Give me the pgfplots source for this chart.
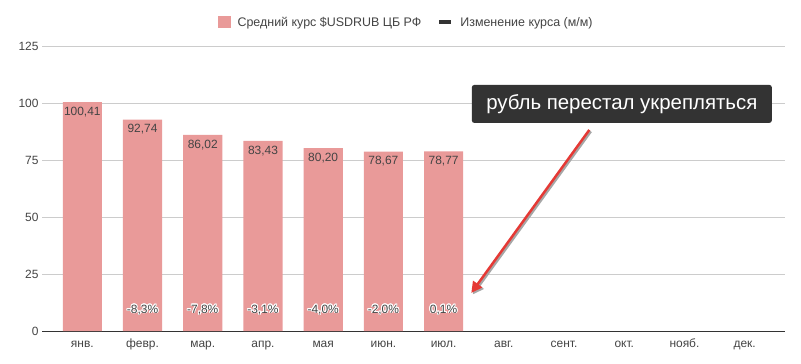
\documentclass[border=0pt]{standalone}
\usepackage{fontspec}
\setmainfont{Liberation Sans}
\usepackage{pgfplots}
\pgfplotsset{compat=1.18}
\usetikzlibrary{arrows.meta}
\usepackage{contour}
\contourlength{0.8pt}
\definecolor{barc}{HTML}{E99A99}
\definecolor{txt}{HTML}{444444}
\definecolor{gridc}{HTML}{CCCCCC}
\definecolor{ann}{HTML}{333333}
\definecolor{arr}{HTML}{E53935}
\begin{document}
\begin{tikzpicture}
\path[use as bounding box] (-42bp,-33bp) rectangle (759bp,331bp);
\begin{axis}[
  scale only axis, width=743bp, height=285bp,
  xmin=-0.67, xmax=11.67, ymin=0, ymax=125,
  ytick={0,25,...,125},
  xtick={0,...,11},
  xticklabels={янв.,февр.,мар.,апр.,мая,июн.,июл.,авг.,сент.,окт.,нояб.,дек.},
  axis line style={draw=none},
  major tick length=0pt,
  ymajorgrids, grid style={gridc, line width=0.8bp},
  extra y ticks={0}, extra y tick labels={},
  extra y tick style={grid style={ann, line width=1bp}},
  tick label style={font=\fontsize{12}{14}\selectfont, text=txt},
  xticklabel style={anchor=base, yshift=-16bp},
  /pgf/number format/assume math mode=true,
  legend style={at={(0.49,1)}, anchor=south, yshift=14bp, draw=none,
    legend columns=-1, font=\fontsize{12.5}{14}\selectfont, text=txt,
    /tikz/every odd column/.append style={column sep=5bp},
    /tikz/every even column/.append style={column sep=14bp}},
]
\addplot[ybar, bar width=0.65, fill=barc, draw=none,
  nodes near coords, point meta=explicit symbolic,
  every node near coord/.style={anchor=north, yshift=-1.5bp, font=\fontsize{12}{14}\selectfont, text=txt},
  legend image code/.code={\fill[barc] (0bp,-6bp) rectangle (13bp,6bp);}]
coordinates {
(0,100.41) [100,41]
(1,92.74) [92,74]
(2,86.02) [86,02]
(3,83.43) [83,43]
(4,80.20) [80,20]
(5,78.67) [78,67]
(6,78.77) [78,77]
};
\addlegendentry{Средний курс \$USDRUB ЦБ РФ}
\addplot[draw=none, mark=none,
  nodes near coords={\contour{white}{\pgfplotspointmeta}}, point meta=explicit symbolic,
  every node near coord/.style={anchor=center, font=\fontsize{12}{14}\selectfont, text=txt},
  legend image code/.code={\draw[ann, line width=4bp] (0bp,0bp) -- (12bp,0bp);}]
coordinates {
(1,9.2) [-8,3\%]
(2,9.2) [-7,8\%]
(3,9.2) [-3,1\%]
(4,9.2) [-4,0\%]
(5,9.2) [-2,0\%]
(6,9.2) [0,1\%]
};
\addlegendentry{Изменение курса (м/м)}
\node[fill=ann, rounded corners=2.5bp, text=white, font=\fontsize{20.5}{23}\selectfont,
  minimum width=300bp, minimum height=38bp, inner sep=0pt] at (axis cs:8.96,99.6) {рубль перестал укрепляться};
\draw[black!35, line width=2.5bp, -{Triangle[length=11bp,width=11bp]}, shift={(1.5bp,-1.5bp)}] (axis cs:8.42,88.2) -- (axis cs:6.46,16.7);
\draw[arr, line width=2.5bp, -{Triangle[length=11bp,width=11bp]}] (axis cs:8.42,88.2) -- (axis cs:6.46,16.7);
\end{axis}
\end{tikzpicture}
\end{document}
